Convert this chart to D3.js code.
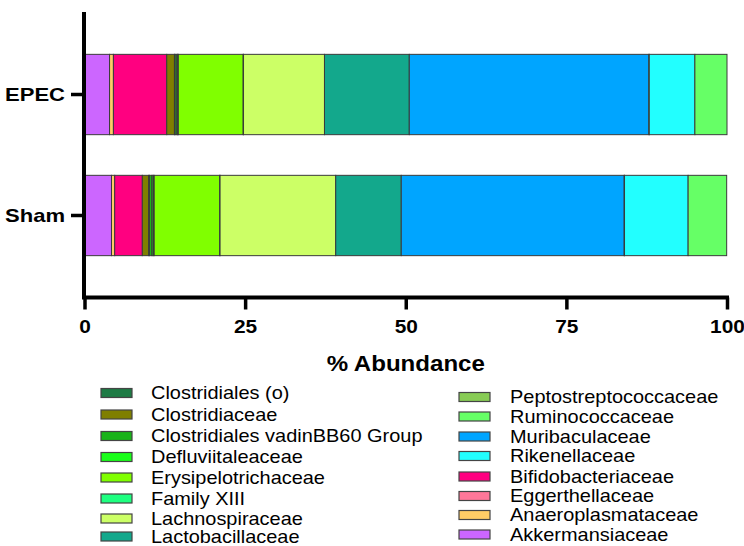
<!DOCTYPE html>
<html><head><meta charset="utf-8">
<script src="https://cdn.jsdelivr.net/npm/d3@7"></script>
<style>body{margin:0;background:#fff}svg{display:block}text{font-family:Arial,"Liberation Sans",sans-serif;fill:#000}</style>
</head><body>
<svg id="c" width="744" height="546"></svg>
<script>
// Stack order (left to right) is alphabetical
const families = ["Akkermansiaceae","Anaeroplasmataceae","Bifidobacteriaceae","Clostridiaceae","Clostridiales (o)","Clostridiales vadinBB60 Group","Defluviitaleaceae","Eggerthellaceae","Erysipelotrichaceae","Family XIII","Lachnospiraceae","Lactobacillaceae","Muribaculaceae","Peptostreptococcaceae","Rikenellaceae","Ruminococcaceae"];
const colors = ["#CC66FF","#FFCC66","#FF0080","#7F7F00","#1E7B45","#1AB31A","#1AFF1A","#FF7799","#80FF00","#1EFF80","#CCFF66","#13A88C","#00A5FF","#88CC55","#22FFFF","#66FF66"];
const groups = ["EPEC","Sham"];
const epecValues = [3.9,0.6,8.3,1.2,0.1,0.3,0.1,0.1,10.1,0.05,12.6,13.2,37.3,0.05,7.1,5.0];
const shamValues = [4.2,0.5,4.3,1.0,0.1,0.4,0.2,0.15,10.2,0.05,18.0,10.2,34.7,0.05,9.9,6.0];
const legendLeft = ["Clostridiales (o)","Clostridiaceae","Clostridiales vadinBB60 Group","Defluviitaleaceae","Erysipelotrichaceae","Family XIII","Lachnospiraceae","Lactobacillaceae"];
const legendRight = ["Peptostreptococcaceae","Ruminococcaceae","Muribaculaceae","Rikenellaceae","Bifidobacteriaceae","Eggerthellaceae","Anaeroplasmataceae","Akkermansiaceae"];
const xTicks = [0,25,50,75,100];

const svg = d3.select("#c");
const x = d3.scaleLinear().domain([0,100]).range([84.5,727]);
const y = d3.scaleBand().domain(groups).range([12,298]).paddingInner(0.336).paddingOuter(0.35);
const color = d3.scaleOrdinal().domain(families).range(colors);

const rows = groups.map((g,i)=>{const vals = i===0?epecValues:shamValues; const o={group:g}; families.forEach((f,j)=>o[f]=vals[j]); return o;});
const series = d3.stack().keys(families)(rows);

svg.append("g").selectAll("g").data(series).join("g")
  .attr("fill", d=>color(d.key))
  .selectAll("rect").data(d=>d).join("rect")
  .attr("x", d=>x(d[0])).attr("width", d=>x(d[1])-x(d[0]))
  .attr("y", d=>y(d.data.group)).attr("height", y.bandwidth())
  .attr("stroke","#3a3a3a").attr("stroke-width",1);

// horizontally stretch a text selection about its own x anchor
function stretch(sel, sx){
  sel.each(function(){
    const t = d3.select(this);
    const tx = +t.attr("x")||0;
    t.attr("x", tx/sx).attr("transform", `scale(${sx},1)`);
  });
}

// axes
const xa = svg.append("g").attr("transform","translate(0,297.5)")
  .call(d3.axisBottom(x).tickValues(xTicks).tickFormat(d3.format("d")).tickSize(12).tickSizeOuter(0).tickPadding(9));
xa.select(".domain").attr("stroke","#000").attr("stroke-width",4).attr("d","M82,0H729");
xa.selectAll(".tick line").attr("stroke","#000").attr("stroke-width",3.5);
xa.selectAll(".tick text").attr("font-size",18.5).attr("font-weight","bold").attr("font-family","Arial, Liberation Sans, sans-serif").attr("fill","#000").attr("dy","0.78em");
stretch(xa.selectAll(".tick text"), 1.13);

const ya = svg.append("g").attr("transform","translate(84,0)")
  .call(d3.axisLeft(y).tickSize(13).tickSizeOuter(0).tickPadding(6));
ya.select(".domain").attr("stroke","#000").attr("stroke-width",4).attr("d","M0,12V299");
ya.selectAll(".tick line").attr("stroke","#000").attr("stroke-width",3.5);
ya.selectAll(".tick text").attr("font-size",19).attr("font-weight","bold").attr("font-family","Arial, Liberation Sans, sans-serif").attr("fill","#000");
stretch(ya.selectAll(".tick text"), 1.16);

svg.append("g").attr("transform",`translate(${(x(0)+x(100))/2},371)`)
  .append("text").attr("text-anchor","middle").attr("transform","scale(1.07,1)")
  .attr("font-size",22.5).attr("font-weight","bold").text("% Abundance");

// legend
function legend(list, sx, tx, ys){
  const g = svg.append("g");
  list.forEach((name,i)=>{
    g.append("rect").attr("x",sx).attr("y",ys[i]-4.5).attr("width",31).attr("height",9)
      .attr("fill",color(name)).attr("stroke","#444").attr("stroke-width",1.2);
    g.append("g").attr("transform",`translate(${tx},${ys[i]})`)
      .append("text").attr("dy","0.36em").attr("font-size",17.5).attr("transform","scale(1.14,1)").text(name);
  });
}
legend(legendLeft, 101, 151, [393,414.5,436,457,477.5,498.5,518.5,536.5]);
legend(legendRight, 459, 510, [397,416.5,436.5,456,476.5,496,515,534.5]);
</script>
</body></html>
